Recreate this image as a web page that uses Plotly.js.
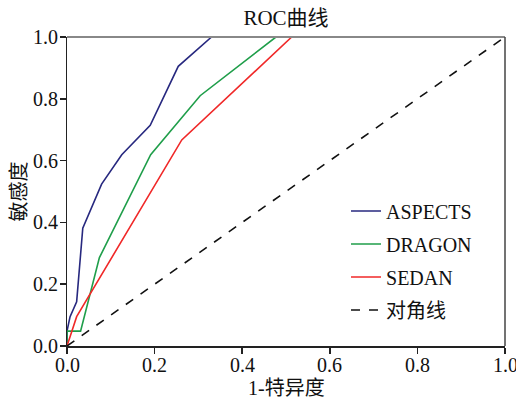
<!DOCTYPE html>
<html><head><meta charset="utf-8">
<script src="https://cdn.plot.ly/plotly-3.0.1.min.js"></script>
<style>body{margin:0;padding:0;background:#fff;overflow:hidden}#chart{width:516px;height:402px}</style>
</head><body><div id="chart"></div>
<script>
const aspectsX = [0, 0, 0.007, 0.022, 0.036, 0.079, 0.125, 0.19, 0.254, 0.33, 1];
const aspectsY = [0, 0.048, 0.095, 0.143, 0.381, 0.524, 0.619, 0.714, 0.905, 1, 1];
const dragonX = [0, 0, 0.031, 0.074, 0.191, 0.304, 0.477, 1];
const dragonY = [0, 0.048, 0.048, 0.286, 0.619, 0.81, 1, 1];
const sedanX = [0, 0.022, 0.262, 0.513, 1];
const sedanY = [0, 0.095, 0.667, 1, 1];
const diagX = [0, 1];
const diagY = [0, 1];
const names = ['ASPECTS', 'DRAGON', 'SEDAN', '对角线'];
const tickVals = [0, 0.2, 0.4, 0.6, 0.8, 1.0];
const tickText = ['0.0', '0.2', '0.4', '0.6', '0.8', '1.0'];
const titleText = 'ROC曲线';
const xTitle = '1-特异度';
const yTitle = '敏感度';

const serif = 'Liberation Serif, Noto Sans CJK SC, serif';
const lf = {family: serif, size: 20, color: '#111'};
const traces = [
  {x: aspectsX, y: aspectsY, name: names[0], mode: 'lines', line: {color: '#27287f', width: 1.6}, legendgroup: 'a'},
  {x: dragonX, y: dragonY, name: names[1], mode: 'lines', line: {color: '#1f9e4a', width: 1.6}, legendgroup: 'b'},
  {x: sedanX, y: sedanY, name: names[2], mode: 'lines', line: {color: '#f02828', width: 1.6}, legendgroup: 'c'},
  {x: diagX, y: diagY, name: names[3], mode: 'lines', line: {color: '#111', width: 1.6, dash: 'dash'}, legendgroup: 'd'}
];

const annotations = [];
tickVals.forEach((v, i) => {
  annotations.push({text: tickText[i], xref: 'x', x: v, yref: 'paper', y: 0, xanchor: 'center', yanchor: 'top',
    yshift: -6, showarrow: false, font: lf});
  annotations.push({text: tickText[i], xref: 'paper', x: 0, yref: 'y', y: v, xanchor: 'right', yanchor: 'middle',
    xshift: -7, showarrow: false, font: lf});
});
annotations.push({text: xTitle, xref: 'paper', x: 0.5, yref: 'paper', y: 0, xanchor: 'center', yanchor: 'middle',
  yshift: -42, showarrow: false, font: lf});
annotations.push({text: yTitle, xref: 'paper', x: 0, yref: 'paper', y: 0.5, xanchor: 'center', yanchor: 'middle',
  xshift: -49, textangle: -90, showarrow: false, font: lf});

const layout = {
  width: 516, height: 402,
  margin: {l: 67, r: 11, t: 37, b: 56},
  paper_bgcolor: '#fff', plot_bgcolor: '#fff',
  font: {family: serif, color: '#111', size: 20},
  title: {text: titleText, x: 0.5, xref: 'paper', y: 0.955, yanchor: 'middle', font: {family: serif, size: 21, color: '#111'}},
  xaxis: {range: [0, 1], tickvals: tickVals, showticklabels: false, ticks: 'outside', ticklen: 6, tickwidth: 1.5, tickcolor: '#222',
    showline: true, linecolor: '#222', linewidth: 1.5, showgrid: false, zeroline: false, automargin: false},
  yaxis: {range: [0, 1], tickvals: tickVals, showticklabels: false, ticks: 'outside', ticklen: 6, tickwidth: 1.5, tickcolor: '#222',
    showline: true, linecolor: '#222', linewidth: 1.5, showgrid: false, zeroline: false, automargin: false},
  showlegend: true,
  legend: {x: 0.637, y: 0.5, xanchor: 'left', yanchor: 'top', bgcolor: 'rgba(0,0,0,0)', font: lf,
    traceorder: 'grouped', tracegroupgap: 4, itemwidth: 30},
  annotations: annotations,
  shapes: [
    {type: 'line', xref: 'paper', yref: 'paper', x0: 0, x1: 1, y0: 1, y1: 1, line: {color: '#888', width: 2}},
    {type: 'line', xref: 'paper', yref: 'paper', x0: 1, x1: 1, y0: 0, y1: 1, line: {color: '#444', width: 1.5}}
  ]
};
Plotly.newPlot('chart', traces, layout, {displayModeBar: false, staticPlot: true});
</script></body></html>
